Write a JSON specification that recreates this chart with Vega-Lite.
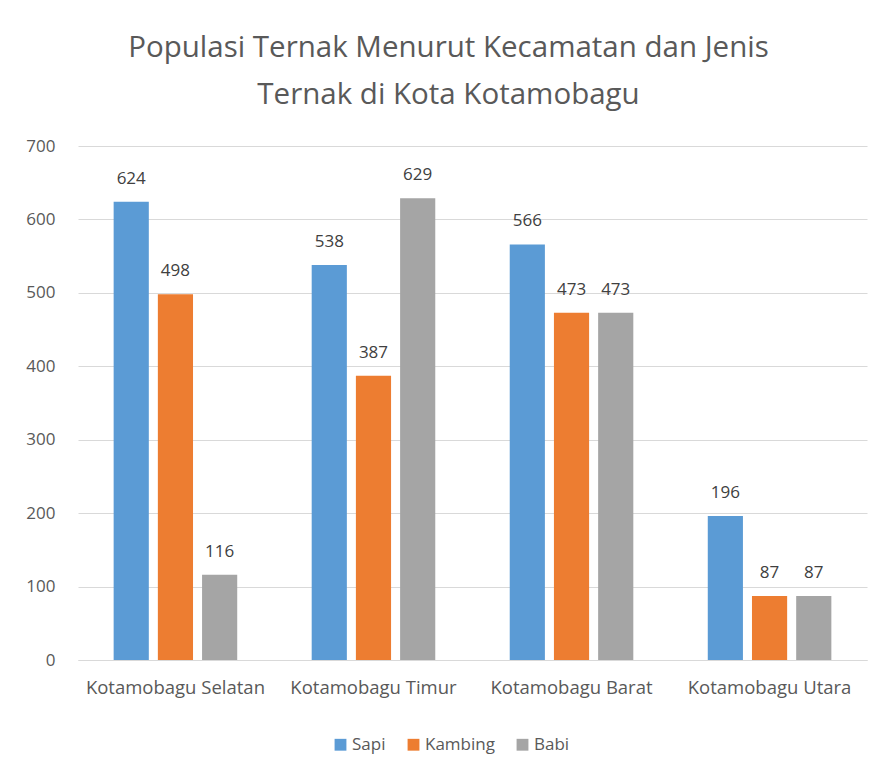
{
  "$schema": "https://vega.github.io/schema/vega-lite/v6.json",
  "autosize": {"type": "none"},
  "width": 789,
  "height": 514,
  "padding": {"left": 78, "top": 146, "right": 24, "bottom": 119},
  "background": "white",
  "view": {"stroke": null},
  "title": {
    "text": ["Populasi Ternak Menurut Kecamatan dan Jenis", "Ternak di Kota Kotamobagu"],
    "font": "Open Sans",
    "fontSize": 29.5,
    "fontWeight": "normal",
    "color": "#595959",
    "lineHeight": 47,
    "anchor": "middle",
    "dx": -24,
    "offset": 27
  },
  "data": {
    "values": [
      {"kecamatan": "Kotamobagu Selatan", "jenis": "Sapi", "nilai": 624},
      {"kecamatan": "Kotamobagu Selatan", "jenis": "Kambing", "nilai": 498},
      {"kecamatan": "Kotamobagu Selatan", "jenis": "Babi", "nilai": 116},
      {"kecamatan": "Kotamobagu Timur", "jenis": "Sapi", "nilai": 538},
      {"kecamatan": "Kotamobagu Timur", "jenis": "Kambing", "nilai": 387},
      {"kecamatan": "Kotamobagu Timur", "jenis": "Babi", "nilai": 629},
      {"kecamatan": "Kotamobagu Barat", "jenis": "Sapi", "nilai": 566},
      {"kecamatan": "Kotamobagu Barat", "jenis": "Kambing", "nilai": 473},
      {"kecamatan": "Kotamobagu Barat", "jenis": "Babi", "nilai": 473},
      {"kecamatan": "Kotamobagu Utara", "jenis": "Sapi", "nilai": 196},
      {"kecamatan": "Kotamobagu Utara", "jenis": "Kambing", "nilai": 87},
      {"kecamatan": "Kotamobagu Utara", "jenis": "Babi", "nilai": 87}
    ]
  },
  "encoding": {
    "x": {
      "field": "kecamatan",
      "type": "nominal",
      "sort": null,
      "scale": {"paddingInner": 0.376, "paddingOuter": 0.18},
      "axis": {
        "title": null,
        "labelAngle": 0,
        "labelFont": "Open Sans",
        "labelFontSize": 18.5,
        "labelColor": "#595959",
        "labelPadding": 18,
        "ticks": false,
        "domainColor": "#d9d9d9",
        "domainWidth": 1
      }
    },
    "xOffset": {
      "field": "jenis",
      "type": "nominal",
      "sort": ["Sapi", "Kambing", "Babi"],
      "scale": {"paddingInner": 0.2045, "paddingOuter": 0}
    },
    "y": {
      "field": "nilai",
      "type": "quantitative",
      "scale": {"domain": [0, 700], "nice": false},
      "axis": {
        "title": null,
        "values": [0, 100, 200, 300, 400, 500, 600, 700],
        "labelFont": "Open Sans",
        "labelFontSize": 17,
        "labelColor": "#595959",
        "labelPadding": 23,
        "ticks": false,
        "domain": false,
        "gridColor": "#d9d9d9",
        "gridWidth": 1
      }
    }
  },
  "layer": [
    {
      "mark": {"type": "bar"},
      "encoding": {
        "color": {
          "field": "jenis",
          "type": "nominal",
          "sort": ["Sapi", "Kambing", "Babi"],
          "scale": {"domain": ["Sapi", "Kambing", "Babi"], "range": ["#5B9BD5", "#ED7D31", "#A5A5A5"]},
          "legend": {
            "title": null,
            "orient": "none",
            "direction": "horizontal",
            "legendX": 254,
            "legendY": 590,
            "symbolType": "square",
            "symbolSize": 140,
            "symbolStrokeWidth": 0,
            "labelFont": "Open Sans",
            "labelFontSize": 17,
            "labelColor": "#595959",
            "columnPadding": 19,
            "labelOffset": 3
          }
        }
      }
    },
    {
      "mark": {"type": "text", "baseline": "alphabetic", "dy": -18, "font": "Open Sans", "fontSize": 17, "color": "#404040"},
      "encoding": {
        "text": {"field": "nilai", "type": "quantitative"}
      }
    }
  ]
}
